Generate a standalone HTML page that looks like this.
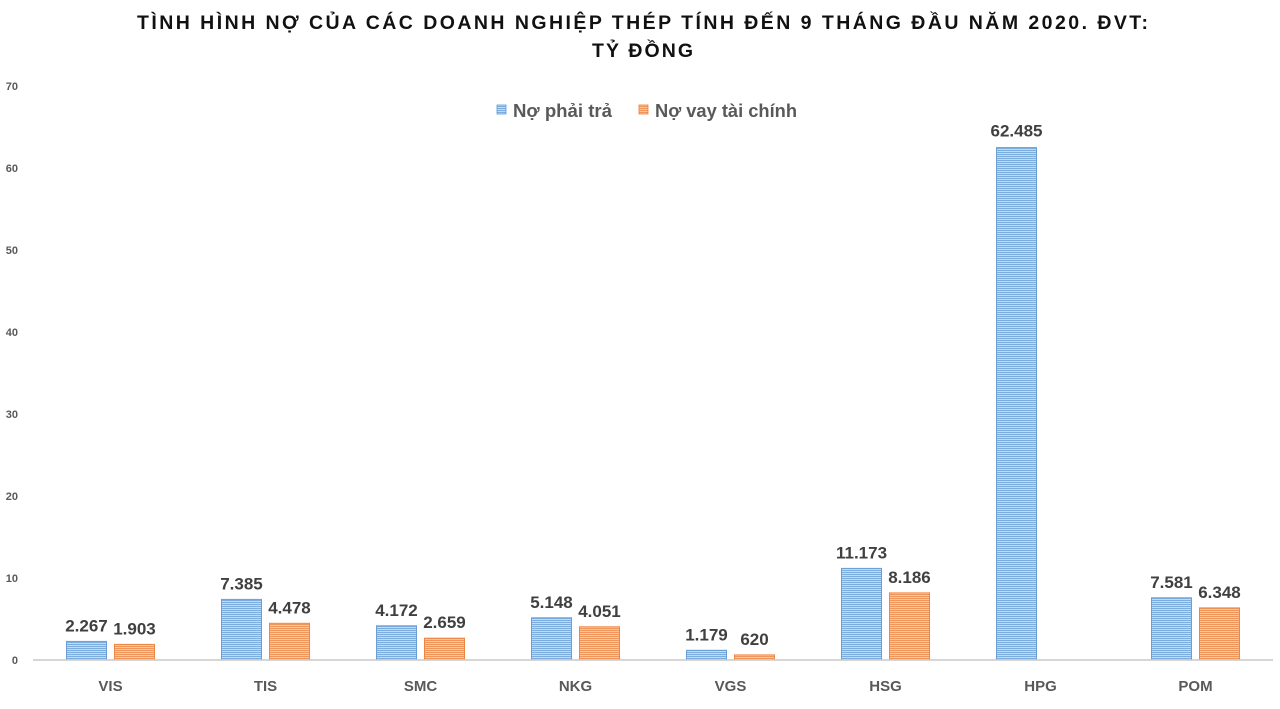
<!DOCTYPE html>
<html>
<head>
<meta charset="utf-8">
<style>
  html, body { margin: 0; padding: 0; background: #ffffff; }
  svg { display: block; }
  text { font-family: "Liberation Sans", "DejaVu Sans", sans-serif; }
</style>
</head>
<body>
<svg width="1280" height="709" viewBox="0 0 1280 709" xmlns="http://www.w3.org/2000/svg">
  <defs>
    <pattern id="pb" width="4" height="2" patternUnits="userSpaceOnUse">
      <rect width="4" height="2" fill="#c3daf1"/>
      <rect width="4" height="1" fill="#7badde"/>
    </pattern>
    <pattern id="po" width="4" height="2" patternUnits="userSpaceOnUse">
      <rect width="4" height="2" fill="#f8c8a2"/>
      <rect width="4" height="1" fill="#f0965a"/>
    </pattern>
  </defs>
  <rect width="1280" height="709" fill="#ffffff"/>

  <!-- Title -->
  <text x="137" y="29" font-size="19.5" font-weight="bold" fill="#111" textLength="1011" lengthAdjust="spacing">TÌNH HÌNH NỢ CỦA CÁC DOANH NGHIỆP THÉP TÍNH ĐẾN 9 THÁNG ĐẦU NĂM 2020. ĐVT:</text>
  <text x="592" y="57" font-size="19.5" font-weight="bold" fill="#111" textLength="101" lengthAdjust="spacing">TỶ ĐỒNG</text>

  <!-- Legend -->
  <rect x="497" y="105" width="9" height="9" fill="url(#pb)" stroke="#5b9bd5" stroke-width="0.8"/>
  <text x="513" y="117" font-size="18" font-weight="bold" fill="#595959" textLength="99" lengthAdjust="spacingAndGlyphs">Nợ phải trả</text>
  <rect x="639" y="105" width="9" height="9" fill="url(#po)" stroke="#ed7d31" stroke-width="0.8"/>
  <text x="655" y="117" font-size="18" font-weight="bold" fill="#595959" textLength="142" lengthAdjust="spacingAndGlyphs">Nợ vay tài chính</text>

  <!-- Y axis labels -->
  <g font-size="11" font-weight="bold" fill="#595959" text-anchor="end">
    <text x="18" y="90">70</text>
    <text x="18" y="172">60</text>
    <text x="18" y="254">50</text>
    <text x="18" y="336">40</text>
    <text x="18" y="418">30</text>
    <text x="18" y="500">20</text>
    <text x="18" y="582">10</text>
    <text x="18" y="664">0</text>
  </g>

  <!-- Bars: blue -->
  <g fill="url(#pb)" stroke="#6a9fd6" stroke-width="1">
    <rect x="66.5" y="641.4" width="40" height="18.6"/>
    <rect x="221.5" y="599.4" width="40" height="60.6"/>
    <rect x="376.5" y="625.8" width="40" height="34.2"/>
    <rect x="531.5" y="617.8" width="40" height="42.2"/>
    <rect x="686.5" y="650.3" width="40" height="9.7"/>
    <rect x="841.5" y="568.4" width="40" height="91.6"/>
    <rect x="996.5" y="147.6" width="40" height="512.4"/>
    <rect x="1151.5" y="597.8" width="40" height="62.2"/>
  </g>
  <!-- Bars: orange -->
  <g fill="url(#po)" stroke="#ee8642" stroke-width="1">
    <rect x="114.5" y="644.4" width="40" height="15.6"/>
    <rect x="269.5" y="623.3" width="40" height="36.7"/>
    <rect x="424.5" y="638.2" width="40" height="21.8"/>
    <rect x="579.5" y="626.8" width="40" height="33.2"/>
    <rect x="734.5" y="654.9" width="40" height="5.1"/>
    <rect x="889.5" y="592.9" width="40" height="67.1"/>
    <rect x="1199.5" y="607.9" width="40" height="52.1"/>
  </g>

  <!-- Axis line -->
  <line x1="33" y1="660" x2="1273" y2="660" stroke="#c8c8c8" stroke-width="1.5"/>

  <!-- Data labels -->
  <g font-size="17" font-weight="bold" fill="#404040" text-anchor="middle">
    <text x="86.5" y="631.4">2.267</text>
    <text x="134.5" y="634.4">1.903</text>
    <text x="241.5" y="589.4">7.385</text>
    <text x="289.5" y="613.3">4.478</text>
    <text x="396.5" y="615.8">4.172</text>
    <text x="444.5" y="628.2">2.659</text>
    <text x="551.5" y="607.8">5.148</text>
    <text x="599.5" y="616.8">4.051</text>
    <text x="706.5" y="640.3">1.179</text>
    <text x="754.5" y="644.9">620</text>
    <text x="861.5" y="558.4">11.173</text>
    <text x="909.5" y="582.9">8.186</text>
    <text x="1016.5" y="136.6">62.485</text>
    <text x="1171.5" y="587.8">7.581</text>
    <text x="1219.5" y="597.9">6.348</text>
  </g>

  <!-- Category labels -->
  <g font-size="15" font-weight="bold" fill="#595959" text-anchor="middle">
    <text x="110.5" y="691">VIS</text>
    <text x="265.5" y="691">TIS</text>
    <text x="420.5" y="691">SMC</text>
    <text x="575.5" y="691">NKG</text>
    <text x="730.5" y="691">VGS</text>
    <text x="885.5" y="691">HSG</text>
    <text x="1040.5" y="691">HPG</text>
    <text x="1195.5" y="691">POM</text>
  </g>
</svg>
</body>
</html>
